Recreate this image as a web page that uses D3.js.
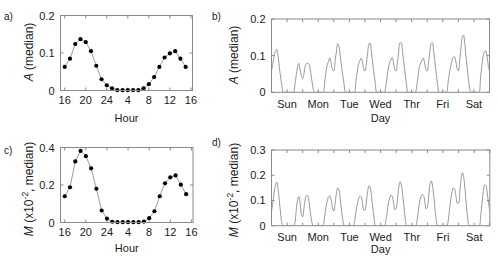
<!DOCTYPE html>
<html>
<head>
<meta charset="utf-8">
<script src="https://cdn.jsdelivr.net/npm/d3@7"></script>
<style>
  body { margin: 0; background: #fff; }
  svg { font-family: "Liberation Sans", Arial, sans-serif; }
</style>
</head>
<body>
<svg id="chart" width="498" height="259"></svg>
<script>
// hourly medians, first point at 16h
const hours = [16, 17, 18, 19, 20, 21, 22, 23, 24, 25, 26, 27, 28, 29, 30, 31, 32, 33, 34, 35, 36, 37, 38, 39];
const hourA = [0.063, 0.085, 0.124, 0.137, 0.129, 0.105, 0.066, 0.030, 0.014, 0.006, 0.001, 0.001,
  0.001, 0.001, 0.001, 0.006, 0.017, 0.036, 0.063, 0.088, 0.099, 0.105, 0.085, 0.063];
const hourM = [0.140, 0.188, 0.326, 0.382, 0.354, 0.289, 0.180, 0.064, 0.021, 0.004, 0.002, 0.002,
  0.002, 0.002, 0.002, 0.005, 0.023, 0.060, 0.140, 0.209, 0.241, 0.251, 0.202, 0.151];
const hourTicks = [16, 20, 24, 28, 32, 36, 40];
const hourTickLabels = ["16", "20", "24", "4", "8", "12", "16"];

// week series, one value per hour (0..168)
const weekA = [
  0.058, 0.078, 0.098, 0.112, 0.117, 0.100, 0.070, 0.042, 0.018, 0, 0, 0, 0, 0, 0, 0, 0, 0, 0.020, 0.045, 0.068, 0.079, 0.062, 0.045,
  0.038, 0.050, 0.072, 0.079, 0.079, 0.077, 0.058, 0.035, 0.012, 0, 0, 0, 0, 0, 0, 0, 0, 0.028, 0.055, 0.075, 0.085, 0.094, 0.078, 0.062,
  0.058, 0.085, 0.110, 0.133, 0.125, 0.098, 0.070, 0.045, 0.020, 0, 0, 0, 0, 0, 0, 0, 0, 0.028, 0.055, 0.075, 0.085, 0.093, 0.085, 0.065,
  0.058, 0.075, 0.105, 0.130, 0.135, 0.110, 0.080, 0.050, 0.025, 0, 0, 0, 0, 0, 0, 0, 0.015, 0.040, 0.065, 0.080, 0.088, 0.095, 0.080, 0.062,
  0.058, 0.080, 0.110, 0.135, 0.135, 0.110, 0.080, 0.050, 0.022, 0, 0, 0, 0, 0, 0, 0, 0.020, 0.045, 0.070, 0.080, 0.088, 0.093, 0.080, 0.062,
  0.058, 0.080, 0.108, 0.133, 0.135, 0.110, 0.080, 0.050, 0.022, 0, 0, 0, 0, 0, 0, 0, 0.025, 0.050, 0.070, 0.085, 0.095, 0.097, 0.085, 0.065,
  0.058, 0.085, 0.120, 0.150, 0.156, 0.130, 0.095, 0.060, 0.030, 0.005, 0, 0, 0, 0, 0, 0, 0, 0.035, 0.070, 0.095, 0.110, 0.114, 0.100, 0.075,
  0.058
];
const weekM = [
  0.055, 0.090, 0.130, 0.160, 0.172, 0.150, 0.100, 0.050, 0.010, 0, 0, 0, 0, 0, 0, 0, 0, 0, 0.010, 0.060, 0.100, 0.115, 0.090, 0.045,
  0.035, 0.070, 0.105, 0.120, 0.118, 0.090, 0.050, 0.015, 0, 0, 0, 0, 0, 0, 0, 0, 0.005, 0.040, 0.075, 0.100, 0.115, 0.118, 0.100, 0.070,
  0.058, 0.090, 0.130, 0.150, 0.140, 0.100, 0.055, 0.020, 0, 0, 0, 0, 0, 0, 0, 0, 0.020, 0.055, 0.085, 0.105, 0.117, 0.115, 0.090, 0.062,
  0.062, 0.095, 0.135, 0.158, 0.150, 0.115, 0.070, 0.030, 0, 0, 0, 0, 0, 0, 0, 0, 0.020, 0.055, 0.090, 0.110, 0.122, 0.115, 0.090, 0.063,
  0.070, 0.110, 0.155, 0.174, 0.160, 0.120, 0.070, 0.025, 0, 0, 0, 0, 0, 0, 0, 0, 0.020, 0.060, 0.095, 0.115, 0.124, 0.120, 0.095, 0.067,
  0.075, 0.120, 0.165, 0.177, 0.155, 0.110, 0.060, 0.015, 0, 0, 0, 0, 0, 0, 0, 0, 0.020, 0.065, 0.105, 0.135, 0.150, 0.145, 0.115, 0.088,
  0.090, 0.140, 0.190, 0.210, 0.190, 0.140, 0.080, 0.030, 0, 0, 0, 0, 0, 0, 0, 0, 0, 0.040, 0.090, 0.135, 0.160, 0.160, 0.130, 0.090,
  0.060
];
const dayTicks = [0, 12, 24, 36, 48, 60, 72, 84, 96, 108, 120, 132, 144, 156, 168];
const dayLabelHours = [12, 36, 60, 84, 108, 132, 156];
const dayLabels = ["Sun", "Mon", "Tue", "Wed", "Thr", "Fri", "Sat"];

const frameColor = "#8a8a8a";
const lineColor = "#808080";
const textColor = "#1a1a1a";

const svg = d3.select("#chart");

function panel(cfg) {
  const x = d3.scaleLinear().domain(cfg.xDomain).range([cfg.left, cfg.right]);
  const y = d3.scaleLinear().domain(cfg.yDomain).range([cfg.bottom, cfg.top]);
  const g = svg.append("g");
  const tickLen = 3;

  // inward ticks on all four sides
  g.append("g").selectAll("line").data(cfg.xTicks).join("line")
    .attr("x1", d => x(d)).attr("x2", d => x(d))
    .attr("y1", cfg.bottom).attr("y2", cfg.bottom - tickLen)
    .attr("stroke", frameColor);
  g.append("g").selectAll("line").data(cfg.xTicks).join("line")
    .attr("x1", d => x(d)).attr("x2", d => x(d))
    .attr("y1", cfg.top).attr("y2", cfg.top + tickLen)
    .attr("stroke", frameColor);
  g.append("g").selectAll("line").data(cfg.yTicks).join("line")
    .attr("x1", cfg.left).attr("x2", cfg.left + tickLen)
    .attr("y1", d => y(d)).attr("y2", d => y(d))
    .attr("stroke", frameColor);
  g.append("g").selectAll("line").data(cfg.yTicks).join("line")
    .attr("x1", cfg.right).attr("x2", cfg.right - tickLen)
    .attr("y1", d => y(d)).attr("y2", d => y(d))
    .attr("stroke", frameColor);

  // data
  const clipId = "clip-" + cfg.name;
  g.append("clipPath").attr("id", clipId).append("rect")
    .attr("x", cfg.left).attr("y", cfg.top)
    .attr("width", cfg.right - cfg.left).attr("height", cfg.bottom - cfg.top);

  const line = d3.line()
    .x(d => x(d[0])).y(d => y(d[1]))
    .curve(cfg.curve);
  g.append("path")
    .datum(cfg.xs.map((v, i) => [v, cfg.ys[i]]))
    .attr("clip-path", `url(#${clipId})`)
    .attr("fill", "none")
    .attr("stroke", lineColor)
    .attr("stroke-width", 0.8)
    .attr("d", line);

  if (cfg.dots) {
    g.append("g").selectAll("circle").data(cfg.xs).join("circle")
      .attr("cx", d => x(d))
      .attr("cy", (d, i) => y(cfg.ys[i]))
      .attr("r", 2.1)
      .attr("fill", "#000");
  }

  // frame
  g.append("rect")
    .attr("x", cfg.left).attr("y", cfg.top)
    .attr("width", cfg.right - cfg.left).attr("height", cfg.bottom - cfg.top)
    .attr("fill", "none").attr("stroke", frameColor);

  // tick labels
  g.append("g").selectAll("text").data(cfg.xLabelAt).join("text")
    .attr("x", d => x(d)).attr("y", cfg.bottom + cfg.xLabelOffset)
    .attr("text-anchor", "middle")
    .attr("font-size", 11).attr("fill", textColor)
    .text((d, i) => cfg.xLabels[i]);
  g.append("g").selectAll("text").data(cfg.yTicks).join("text")
    .attr("x", cfg.left - 6).attr("y", d => y(d) + 4)
    .attr("text-anchor", "end")
    .attr("font-size", 11).attr("fill", textColor)
    .text(d => d === 0 ? "0" : d.toFixed(1));

  // axis titles
  g.append("text")
    .attr("x", (cfg.left + cfg.right) / 2).attr("y", cfg.titleY)
    .attr("text-anchor", "middle")
    .attr("font-size", 11).attr("fill", textColor)
    .text(cfg.xTitle);

  const yt = g.append("text")
    .attr("transform", `translate(${cfg.yTitleX},${cfg.yTitleY}) rotate(-90)`)
    .attr("text-anchor", "middle")
    .attr("font-size", 12).attr("fill", textColor);
  yt.append("tspan").attr("font-style", "italic").text(cfg.yVar);
  if (cfg.yVar === "M") {
    yt.append("tspan").text(" (x10");
    yt.append("tspan").attr("font-size", 8.5).attr("dy", -5).text("-2");
    yt.append("tspan").attr("dy", 5).text(", median)");
  } else {
    yt.append("tspan").text(" (median)");
  }

  svg.append("text")
    .attr("x", cfg.tagX).attr("y", cfg.tagY)
    .attr("font-size", 10).attr("fill", textColor)
    .text(cfg.tag);
}

panel({
  name: "a", tag: "a)", tagX: 4, tagY: 20,
  left: 60.5, right: 192.5, top: 15.5, bottom: 90.5,
  xDomain: [15.2, 40.3], yDomain: [0, 0.2],
  xTicks: hourTicks, xLabelAt: hourTicks, xLabels: hourTickLabels, xLabelOffset: 13.5,
  yTicks: [0, 0.1, 0.2],
  xs: hours, ys: hourA, dots: true, curve: d3.curveLinear,
  xTitle: "Hour", titleY: 121.7, yVar: "A", yTitleX: 33, yTitleY: 52
});

panel({
  name: "b", tag: "b)", tagX: 212, tagY: 20,
  left: 271.5, right: 489.5, top: 19, bottom: 92.3,
  xDomain: [0, 168], yDomain: [0, 0.2],
  xTicks: dayTicks, xLabelAt: dayLabelHours, xLabels: dayLabels, xLabelOffset: 15.7,
  yTicks: [0, 0.1, 0.2],
  xs: weekA.map((v, i) => i), ys: weekA, dots: false, curve: d3.curveCatmullRom,
  xTitle: "Day", titleY: 121.7, yVar: "A", yTitleX: 238, yTitleY: 55
});

panel({
  name: "c", tag: "c)", tagX: 4, tagY: 154,
  left: 60.5, right: 193, top: 147.5, bottom: 222.5,
  xDomain: [15.2, 40.3], yDomain: [0, 0.4],
  xTicks: hourTicks, xLabelAt: hourTicks, xLabels: hourTickLabels, xLabelOffset: 13.5,
  yTicks: [0, 0.2, 0.4],
  xs: hours, ys: hourM, dots: true, curve: d3.curveLinear,
  xTitle: "Hour", titleY: 252.3, yVar: "M", yTitleX: 33, yTitleY: 189
});

panel({
  name: "d", tag: "d)", tagX: 212, tagY: 146,
  left: 271.5, right: 489.8, top: 150, bottom: 225.7,
  xDomain: [0, 168], yDomain: [0, 0.3],
  xTicks: dayTicks, xLabelAt: dayLabelHours, xLabels: dayLabels, xLabelOffset: 15,
  yTicks: [0, 0.1, 0.2, 0.3],
  xs: weekM.map((v, i) => i), ys: weekM, dots: false, curve: d3.curveCatmullRom,
  xTitle: "Day", titleY: 253, yVar: "M", yTitleX: 238, yTitleY: 190
});
</script>
</body>
</html>
